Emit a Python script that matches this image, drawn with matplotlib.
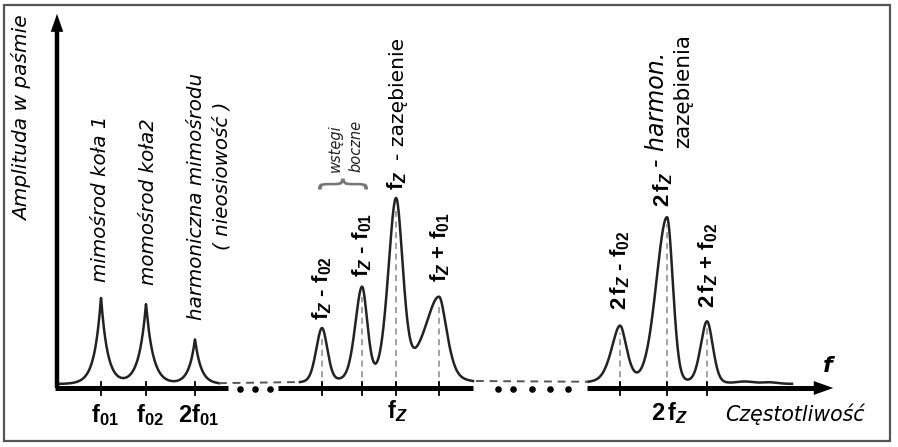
import numpy as np
import matplotlib.pyplot as plt
from matplotlib.patches import Rectangle, PathPatch
from matplotlib.textpath import TextPath
from matplotlib.font_manager import FontProperties
from matplotlib.transforms import Affine2D

plt.rcParams['font.family'] = ['DejaVu Sans']
plt.rcParams['mathtext.fontset'] = 'custom'
plt.rcParams['mathtext.rm'] = 'Liberation Sans:bold'
plt.rcParams['mathtext.it'] = 'Liberation Sans:bold:italic'
plt.rcParams['mathtext.bf'] = 'Liberation Sans:bold'

# frequency positions (px from the y axis) and amplitudes (px above the f axis)
low_freq = [44, 89, 138]            # f01, f02, 2f01
low_amp = [87, 80, 45]
low_width = [6.5, 7.0, 6.0]

mesh_freq = [265, 305, 339, 382]    # fz-f02, fz-f01, fz, fz+f01
mesh_amp = [54, 93, 179, 86]
mesh_wl = [6.0, 7.0, 8.0, 16.0]
mesh_wr = [5.5, 5.5, 7.0, 8.5]
mesh_eta = [0.2, 0.25, 0.25, 0.5]

harm_freq = [563, 610, 650]         # 2fz-f02, 2fz, 2fz+f02
harm_amp = [57, 166, 62]
harm_wl = [9.0, 11.0, 6.5]
harm_wr = [7.0, 6.0, 6.0]
harm_eta = [0.4, 0.15, 0.2]

ripple_freq = [688, 712]
ripple_amp = [2, 1.5]

baseline = 4
low_tick_labels = [r'$\mathrm{f}_{\mathit{01}}$', r'$\mathrm{f}_{\mathit{02}}$', r'$\mathrm{2f}_{\mathit{01}}$']


def cusp(x, f, a, w):
    return a * np.exp(-np.abs(x - f) / w)


def bump(x, f, a, wl, wr, eta):
    w = np.where(x < f, wl, wr)
    u = (x - f) / w
    return a * ((1 - eta) * np.exp(-0.5 * u ** 2) + eta / (1 + u ** 2))


fig = plt.figure(figsize=(8.98, 4.47), dpi=100)
ax = fig.add_axes([0, 0, 1, 1])
ax.set_xlim(-57, 898 - 57)
ax.set_ylim(-(447 - 388), 388)
ax.axis('off')

# frame
fig.patches.append(Rectangle((4 / 898, 6 / 447), 886 / 898, 436 / 447, transform=fig.transFigure,
                             fill=False, edgecolor='#555555', lw=1.6))

curve = dict(color='#222222', lw=1.8)
# curve, part 1
x1 = np.linspace(0, 162, 600)
y1 = baseline + sum(cusp(x1, f, a, w) for f, a, w in zip(low_freq, low_amp, low_width))
ax.plot(x1, y1, **curve)

# curve, part 2
x2 = np.linspace(243, 416, 600)
y2 = baseline + sum(bump(x2, *p) for p in zip(mesh_freq, mesh_amp, mesh_wl, mesh_wr, mesh_eta))
ax.plot(x2, y2, **curve)

# curve, part 3
x3 = np.linspace(531, 735, 700)
y3 = baseline + sum(bump(x3, *p) for p in zip(harm_freq, harm_amp, harm_wl, harm_wr, harm_eta))
y3 = y3 + sum(bump(x3, f, a, 8, 8, 0) for f, a in zip(ripple_freq, ripple_amp))
ax.plot(x3, y3, **curve)

# dashed links between the parts
ax.plot([x1[-1], x2[0]], [y1[-1], y2[0]], color='#555555', lw=1.4, ls=(0, (4, 3)))
ax.plot([x2[-1] + 3, x3[0]], [y2[-1], y3[0]], color='#555555', lw=1.4, ls=(0, (4, 3)))

# dashed drop lines
for f, a in zip(mesh_freq + harm_freq, mesh_amp + harm_amp):
    ax.plot([f, f], [0, baseline + a - 6], color='#888888', lw=1.1, ls=(0, (4, 3)))

# axes
ax.plot([0, 0], [0, 360], color='black', lw=3.2, solid_capstyle='butt')
ax.annotate('', xy=(0, 377), xytext=(0, 350),
            arrowprops=dict(arrowstyle='-|>,head_length=1.3,head_width=0.45', color='black', lw=0))
for a_, b_ in [(-2, 171), (221, 416), (530, 760)]:
    ax.plot([a_, b_], [0, 0], color='black', lw=3.6, solid_capstyle='butt')
ax.annotate('', xy=(779, 0), xytext=(755, 0),
            arrowprops=dict(arrowstyle='-|>,head_length=1.4,head_width=0.5', color='black', lw=0))
ax.scatter([183, 198, 213, 441, 456, 475, 493, 511], [-1] * 8, s=14, color='black')

# ticks
for f in low_freq + mesh_freq + harm_freq:
    ax.plot([f, f], [-7, 6], color='black', lw=1.3)

# labels
ax.text(-35, 270, 'Amplituda w paśmie', rotation=90, ha='center', va='center',
        fontsize=14.5, style='italic', color='black')
for f, lab in zip(low_freq, low_tick_labels):
    ax.text(f + 4, -27, lab, ha='center', va='center', fontsize=17)
ax.text(340, -23, r'$\mathrm{f}_{\mathit{Z}}$', ha='center', va='center', fontsize=17)
ax.text(613, -25, r'$\mathrm{2\,f}_{\mathit{Z}}$', ha='center', va='center', fontsize=17)
ax.text(738, -26, 'Częstotliwość', ha='center', va='center', fontsize=14.8, style='italic')
ax.text(771, 22, 'f', ha='center', va='center', fontsize=16, style='italic', weight='bold')

it = dict(rotation=90, ha='center', va='bottom', fontsize=14.3, style='italic', color='black')
ax.text(44, 106, 'mimośrod koła 1', **it)
ax.text(91, 103, 'momośrod koła2', **it)
ax.text(139, 68, 'harmoniczna mimośrodu', **it)
ax.text(165, 138, '( nieosiowość )', **it)

bl = dict(rotation=90, ha='center', va='bottom', fontsize=16, family='Liberation Sans', weight='bold')
ax.text(265, 68, r'$\mathrm{f}_{\mathit{Z}}$ - $\mathrm{f}_{\mathit{02}}$', **bl)
ax.text(305, 111, r'$\mathrm{f}_{\mathit{Z}}$ - $\mathrm{f}_{\mathit{01}}$', **bl)
ax.text(340, 198, r'$\mathrm{f}_{\mathit{Z}}$', **bl)
ax.text(383, 106, r'$\mathrm{f}_{\mathit{Z}}$ + $\mathrm{f}_{\mathit{01}}$', **bl)
ax.text(563, 78, r'$\mathrm{2\,f}_{\mathit{Z}}$ - $\mathrm{f}_{\mathit{02}}$', **bl)
ax.text(606, 181, r'$\mathrm{2\,f}_{\mathit{Z}}$', **bl)
ax.text(651, 80, r'$\mathrm{2\,f}_{\mathit{Z}}$ + $\mathrm{f}_{\mathit{02}}$', **bl)
ax.text(342, 228, '- zazębienie', rotation=90, ha='center', va='bottom', fontsize=14.6, color='black')
ax.text(600, 221, '- harmon.', rotation=90, ha='center', va='bottom', fontsize=17, style='italic',
        color='black')
ax.text(626, 240, 'zazębienia', rotation=90, ha='center', va='bottom', fontsize=15.5, color='black')

sm = dict(rotation=90, ha='center', va='bottom', fontsize=10.5, style='italic', color='#222222')
ax.text(278, 216, 'wstęgi', **sm)
ax.text(299, 216, 'boczne', **sm)

# curly brace under "wstegi boczne"
tp = TextPath((0, 0), '}', size=1, prop=FontProperties(family='DejaVu Sans'))
ext = tp.get_extents()
cx, cy = (ext.x0 + ext.x1) / 2, (ext.y0 + ext.y1) / 2
tr = Affine2D().translate(-cx, -cy).scale(11 / ext.width, 50 / ext.height).rotate_deg(90).translate(286, 204)
ax.add_patch(PathPatch(tp, transform=tr + ax.transData, facecolor='#777777', edgecolor='none'))

fig.savefig('out.png', dpi=100)
